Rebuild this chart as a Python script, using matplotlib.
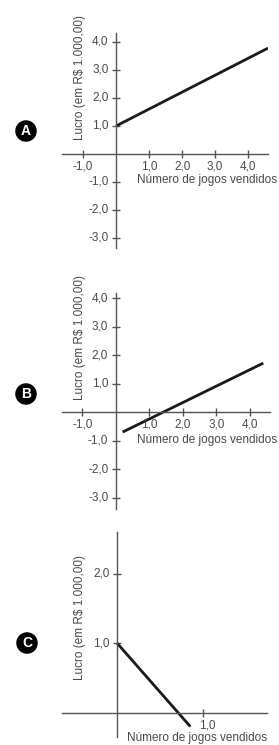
import matplotlib
matplotlib.use("Agg")
import matplotlib.pyplot as plt

plt.rcParams['font.family'] = ['Liberation Sans', 'DejaVu Sans']

# data
a_x = [0.0, 4.6]
a_y = [1.0, 3.78]
a_xticks = [-1.0, 1.0, 2.0, 3.0, 4.0]
a_yticks = [-3.0, -2.0, -1.0, 1.0, 2.0, 3.0, 4.0]

b_x = [0.2, 4.4]
b_y = [-0.7, 1.72]
b_xticks = [-1.0, 1.0, 2.0, 3.0, 4.0]
b_yticks = [-3.0, -2.0, -1.0, 1.0, 2.0, 3.0, 4.0]

c_x = [0.0, 0.85]
c_y = [1.0, -0.2]
c_xticks = [1.0]
c_yticks = [1.0, 2.0]

letters = ['A', 'B', 'C']
ylab = 'Lucro (em R$ 1.000,00)'
xlab = 'Número de jogos vendidos'

W, H = 279, 745
fig = plt.figure(figsize=(W / 100, H / 100), dpi=100)
axcol = '#555555'
txtcol = '#4a4a4a'
fs = 8.5


def px_axes(x0, x1, ytop, ybot):
    return fig.add_axes([x0 / W, 1 - ybot / H, (x1 - x0) / W, (ybot - ytop) / H])


def fmt(v):
    return ('%.1f' % v).replace('.', ',')


def setup(ax, xlim, ylim, xt, yt):
    ax.set_xlim(*xlim)
    ax.set_ylim(*ylim)
    for s in ['top', 'right']:
        ax.spines[s].set_visible(False)
    for s in ['left', 'bottom']:
        ax.spines[s].set_position('zero')
        ax.spines[s].set_color(axcol)
        ax.spines[s].set_linewidth(1.0)
    ax.patch.set_alpha(0)
    ax.set_xticks(xt)
    ax.set_yticks(yt)
    ax.set_xticklabels([])
    ax.set_yticklabels([])
    ax.tick_params(direction='inout', length=6, width=1.0, color=axcol)


panels = [
    dict(box=(62, 268, 33, 248), xlim=(-1.64, 4.6), ylim=(-3.36, 4.32),
         x=a_x, y=a_y, xt=a_xticks, yt=a_yticks, circ=(26, 131), lab=77, xl=180),
    dict(box=(62, 270, 293, 509), xlim=(-1.61, 4.6), ylim=(-3.4, 4.18),
         x=b_x, y=b_y, xt=b_xticks, yt=b_yticks, circ=(26, 394), lab=337, xl=440),
    dict(box=(62, 267, 532, 737), xlim=(-0.64, 1.74), ylim=(-0.35, 2.6),
         x=c_x, y=c_y, xt=c_xticks, yt=c_yticks, circ=(27, 643), lab=618, xl=738),
]

for i, p in enumerate(panels):
    ax = px_axes(*p['box'])
    setup(ax, p['xlim'], p['ylim'], p['xt'], p['yt'])
    ax.plot(p['x'], p['y'], color='#1a1a1a', lw=2.0, solid_capstyle='butt')
    # tick labels
    for v in p['yt']:
        ax.annotate(fmt(v), (0, v), xytext=(-5.5, 0), textcoords='offset points',
                    ha='right', va='center', fontsize=fs, color=txtcol)
    if i < 2:
        for v in p['xt']:
            ax.annotate(fmt(v), (v, 0), xytext=(0, -4.5), textcoords='offset points',
                        ha='center', va='top', fontsize=fs, color=txtcol)
        fig.text(277.5 / W, 1 - p['xl'] / H, xlab, ha='right', va='center',
                 fontsize=fs, color=txtcol)
    else:
        ax.annotate(fmt(1.0), (1.0, 0), xytext=(-3, -5.0), textcoords='offset points',
                    ha='left', va='top', fontsize=fs, color=txtcol)
        fig.text(197 / W, 1 - p['xl'] / H, xlab, ha='center', va='center',
                 fontsize=fs, color=txtcol)
    fig.text(80 / W, 1 - p['lab'] / H, ylab, rotation=90, ha='center', va='center',
             fontsize=fs, color=txtcol)
    cx, cy = p['circ']
    fig.text(cx / W, 1 - cy / H, letters[i], ha='center', va='center',
             fontsize=10, fontweight='bold', color='white',
             bbox=dict(boxstyle='circle,pad=0.22', fc='black', ec='black'))

fig.savefig('out.png', dpi=100)
